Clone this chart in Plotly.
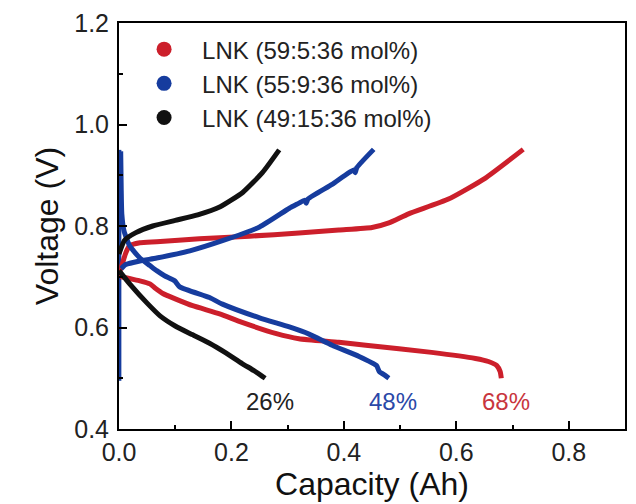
import plotly.graph_objects as go

# Series names and colours
names = ["LNK (59:5:36 mol%)", "LNK (55:9:36 mol%)", "LNK (49:15:36 mol%)"]
colors = ["#cc1f2b", "#163c9e", "#111111"]
label_colors = ["#c8353e", "#2a48a8", "#222222"]

# Charge curves (capacity in Ah, voltage in V)
red_charge_q = [0.0, 0.005, 0.012, 0.019, 0.037, 0.067, 0.143, 0.232, 0.320, 0.391, 0.450,
                0.480, 0.515, 0.586, 0.651, 0.719]
red_charge_v = [0.706, 0.722, 0.747, 0.761, 0.767, 0.769, 0.775, 0.780, 0.786, 0.792, 0.797,
                0.806, 0.824, 0.853, 0.894, 0.951]

blue_charge_q = [0.004, 0.012, 0.037, 0.067, 0.126, 0.184, 0.250, 0.303, 0.320, 0.330, 0.333,
                 0.336, 0.379, 0.418, 0.420, 0.423, 0.453]
blue_charge_v = [0.716, 0.724, 0.731, 0.737, 0.751, 0.771, 0.798, 0.835, 0.845, 0.851, 0.845,
                 0.853, 0.882, 0.911, 0.905, 0.915, 0.951]

# Resting-voltage trace of the 55:9:36 cell along the zero-capacity axis
blue_rest_q = [0.002, 0.002]
blue_rest_v = [0.495, 0.950]

black_charge_q = [0.0, 0.010, 0.030, 0.060, 0.100, 0.140, 0.180, 0.220, 0.255, 0.285]
black_charge_v = [0.745, 0.772, 0.787, 0.800, 0.811, 0.822, 0.838, 0.866, 0.905, 0.950]

# Discharge curves
red_dis_q = [0.0, 0.005, 0.037, 0.055, 0.064, 0.078, 0.099, 0.131, 0.179, 0.219, 0.280,
             0.320, 0.391, 0.439, 0.556, 0.634, 0.657, 0.672, 0.678, 0.680]
red_dis_v = [0.706, 0.700, 0.692, 0.686, 0.678, 0.667, 0.657, 0.643, 0.627, 0.610, 0.588,
             0.578, 0.571, 0.565, 0.551, 0.539, 0.533, 0.525, 0.513, 0.500]

blue_dis_q = [0.003, 0.004, 0.005, 0.009, 0.019, 0.037, 0.055, 0.067, 0.081, 0.099, 0.108,
              0.161, 0.184, 0.250, 0.303, 0.338, 0.379, 0.427, 0.458, 0.463, 0.470, 0.480]
blue_dis_v = [0.947, 0.869, 0.824, 0.790, 0.761, 0.737, 0.722, 0.712, 0.702, 0.692, 0.680,
              0.659, 0.646, 0.619, 0.601, 0.587, 0.565, 0.543, 0.525, 0.513, 0.508, 0.500]

black_dis_q = [0.0, 0.019, 0.050, 0.073, 0.100, 0.130, 0.161, 0.190, 0.219, 0.240, 0.260]
black_dis_v = [0.712, 0.686, 0.648, 0.623, 0.603, 0.586, 0.569, 0.550, 0.529, 0.515, 0.500]

# Utilisation labels placed under each discharge end point
end_caps = [red_dis_q[-1], blue_dis_q[-1], black_dis_q[-1]]
label_y = 0.455

x_ticks = [0.0, 0.2, 0.4, 0.6, 0.8]
y_ticks = [0.4, 0.6, 0.8, 1.0, 1.2]

FONT = "Arial, Liberation Sans, sans-serif"

fig = go.Figure()

fig.add_trace(go.Scatter(x=blue_rest_q, y=blue_rest_v, mode="lines",
                         line=dict(color=colors[1], width=2.5),
                         showlegend=False, hoverinfo="skip"))

curves = [
    (red_charge_q, red_charge_v, red_dis_q, red_dis_v),
    (blue_charge_q, blue_charge_v, blue_dis_q, blue_dis_v),
    (black_charge_q, black_charge_v, black_dis_q, black_dis_v),
]

for (cq, cv, dq, dv), col in zip(curves, colors):
    for xs, ys in ((cq, cv), (dq, dv)):
        fig.add_trace(go.Scatter(x=xs, y=ys, mode="lines",
                                 line=dict(color=col, width=5, shape="spline", smoothing=0.5),
                                 showlegend=False, hoverinfo="skip"))

# Legend entries drawn as filled circles
for name, col in zip(names, colors):
    fig.add_trace(go.Scatter(x=[None], y=[None], mode="markers", name=name,
                             marker=dict(size=15, color=col)))

for q, col in zip(end_caps, label_colors):
    fig.add_annotation(x=q + 0.008, y=label_y, text=f"{round(q * 100)}%", showarrow=False,
                       font=dict(family=FONT, size=24, color=col), xanchor="center", yanchor="middle")

axis_common = dict(
    showline=True, linecolor="black", linewidth=2, mirror=True,
    ticks="inside", ticklen=8, tickwidth=2, tickcolor="black",
    showgrid=False, zeroline=False,
    tickfont=dict(family=FONT, size=25, color="#222222"),
)

fig.update_xaxes(range=[0, 0.9], tickvals=x_ticks, ticktext=[f"{v:.1f}" for v in x_ticks],
                 minor=dict(dtick=0.1, tick0=0, ticks="inside", ticklen=4, tickwidth=2, tickcolor="black"),
                 title=dict(text="Capacity (Ah)", font=dict(family=FONT, size=32, color="#111111"), standoff=4),
                 **axis_common)
fig.update_yaxes(range=[0.4, 1.2], tickvals=y_ticks, ticktext=[f"{v:.1f}" for v in y_ticks],
                 minor=dict(dtick=0.1, tick0=0.4, ticks="inside", ticklen=4, tickwidth=2, tickcolor="black"),
                 ticklabelstandoff=3,
                 title=dict(text="Voltage (V)", font=dict(family=FONT, size=32, color="#111111"), standoff=6),
                 **axis_common)

fig.update_layout(
    width=636, height=504,
    margin=dict(l=119, r=9, t=21, b=75),
    paper_bgcolor="white", plot_bgcolor="white",
    legend=dict(x=0.014, y=0.99, xanchor="left", yanchor="top",
                font=dict(family=FONT, size=24, color="#222222"),
                bgcolor="rgba(0,0,0,0)", itemwidth=66, tracegroupgap=0),
    showlegend=True,
)

fig.write_html("out.html")
